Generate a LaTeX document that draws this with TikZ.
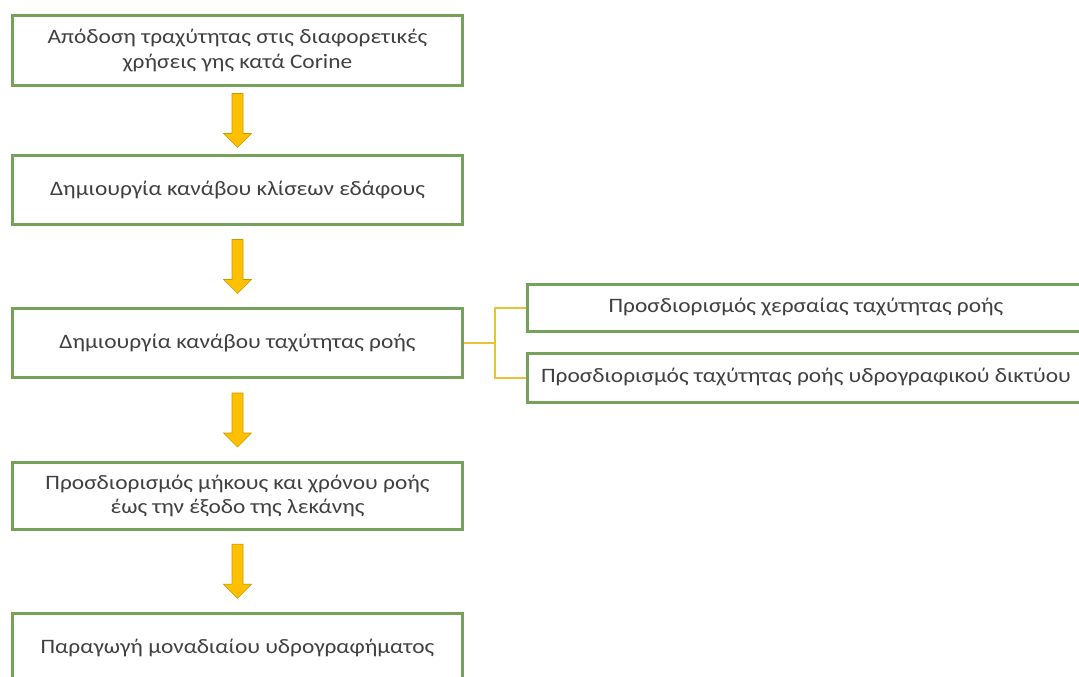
\documentclass[tikz,border=0pt]{standalone}
\usepackage{fontspec}
\setmainfont[FakeStretch=1.14]{Carlito}
\usetikzlibrary{calc}
\definecolor{boxgreen}{HTML}{76A15A}
\definecolor{arrowfill}{HTML}{FFC000}
\definecolor{arrowedge}{HTML}{C99A00}
\definecolor{linkyellow}{HTML}{EBC234}
\definecolor{txt}{HTML}{404040}
\tikzset{
  stepbox/.style={draw=boxgreen, line width=3bp, fill=white, align=center,
    text=txt, font=\fontsize{20.5bp}{24.5bp}\selectfont, inner sep=0pt},
  leftbox/.style={stepbox, minimum width=449bp},
  rightbox/.style={stepbox, minimum width=558bp},
  % block arrow centred in the gap between two boxes
  blockarrow/.style={fill=arrowfill, draw=arrowedge, line width=0.6bp,
    to path={let \p1=(\tikztostart), \p2=(\tikztotarget),
      \p3=($(\p1)!0.5!(\p2)$) in
      (\x1-5.5bp,\y3+27bp) -- (\x1+5.5bp,\y3+27bp) -- (\x1+5.5bp,\y3-13bp)
      -- (\x1+14bp,\y3-13bp) -- (\x1,\y3-27bp) -- (\x1-14bp,\y3-13bp)
      -- (\x1-5.5bp,\y3-13bp) -- cycle}},
  link/.style={draw=linkyellow, line width=2bp}
}
\begin{document}
\begin{tikzpicture}[x=1bp,y=-1bp]
\clip (0,0) rectangle (1079,677);
\fill[white] (0,0) rectangle (1079,677);

\node[leftbox, minimum height=70bp] (b1) at (237.5,50.5)
  {Απόδοση τραχύτητας στις διαφορετικές\\χρήσεις γης κατά Corine};
\node[leftbox, minimum height=69bp] (b2) at (237.5,190)
  {Δημιουργία κανάβου κλίσεων εδάφους};
\node[leftbox, minimum height=69bp] (b3) at (237.5,343)
  {Δημιουργία κανάβου ταχύτητας ροής};
\node[leftbox, minimum height=67bp] (b4) at (237.5,496)
  {Προσδιορισμός μήκους και χρόνου ροής\\έως την έξοδο της λεκάνης};
\node[leftbox, minimum height=70bp] (b5) at (237.5,648)
  {Παραγωγή μοναδιαίου υδρογραφήματος};

\node[rightbox, minimum height=47bp] (r1) at (806,307.5)
  {Προσδιορισμός χερσαίας ταχύτητας ροής};
\node[rightbox, minimum height=49bp] (r2) at (806,377.5)
  {Προσδιορισμός ταχύτητας ροής υδρογραφικού δικτύου};

\path[blockarrow] (b1.south) to (b2.north);
\path[blockarrow] (b2.south) to (b3.north);
\path[blockarrow] (b3.south) to (b4.north);
\path[blockarrow] (b4.south) to (b5.north);

\coordinate (j) at ($(b3.east)+(31,0)$);
\draw[link] (b3.east) -- (j);
\draw[link] (r1.west) -| (j);
\draw[link] (r2.west) -| (j);
\end{tikzpicture}
\end{document}
